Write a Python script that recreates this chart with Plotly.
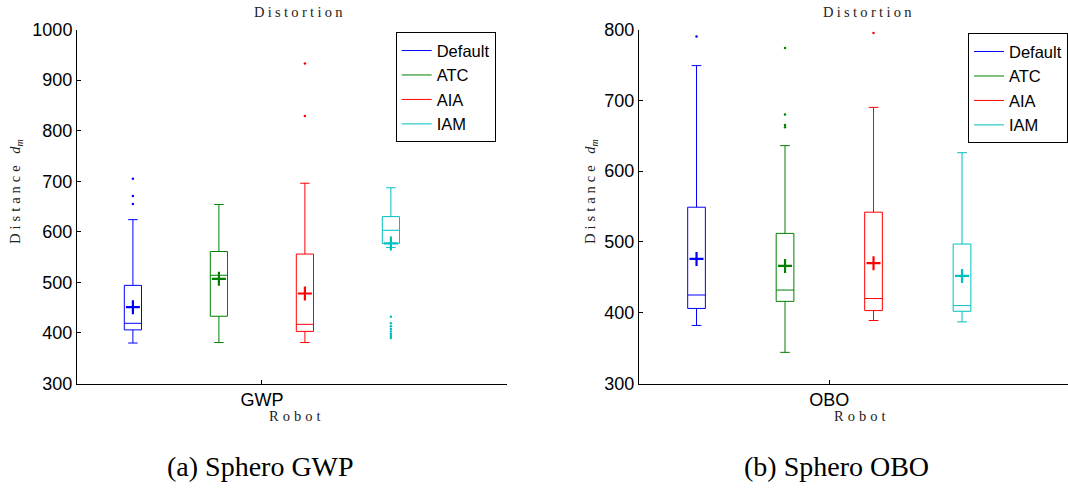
import plotly.graph_objects as go

# ---------------- data ----------------
methods = ["Default", "ATC", "AIA", "IAM"]
colors = ["#0000FF", "#008000", "#FF0000", "#00BFBF"]
positions = [1, 2, 3, 4]

# Sphero GWP
gwp_q1 = [406, 433, 403, 577]
gwp_median = [419, 514, 417, 603]
gwp_q3 = [494, 561, 556, 630]
gwp_low = [380, 381, 381, 569]
gwp_high = [624, 654, 696, 687]
gwp_mean = [451, 507, 478, 577]
gwp_outliers = [
    [655, 671, 705],
    [],
    [829, 933],
    [390, 394, 398, 403, 408, 413, 419, 432],
]

# Sphero OBO
obo_q1 = [406, 416, 403, 402]
obo_median = [425, 432, 420, 410]
obo_q3 = [549, 512, 542, 497]
obo_low = [382, 344, 389, 387]
obo_high = [749, 636, 690, 626]
obo_mean = [476, 466, 470, 452]
obo_outliers = [
    [790],
    [662, 665, 680, 774],
    [795],
    [],
]

robots = ["GWP", "OBO"]
captions = ["(a) Sphero GWP", "(b) Sphero OBO"]
gwp_yticks = [300, 400, 500, 600, 700, 800, 900, 1000]
obo_yticks = [300, 400, 500, 600, 700, 800]

# ---------------- figure ----------------
W, H = 1068, 491
fig = go.Figure()

panels = [
    dict(xa="x", ya="y", leg="legend", q1=gwp_q1, med=gwp_median, q3=gwp_q3,
         lo=gwp_low, hi=gwp_high, mean=gwp_mean, out=gwp_outliers),
    dict(xa="x2", ya="y2", leg="legend2", q1=obo_q1, med=obo_median, q3=obo_q3,
         lo=obo_low, hi=obo_high, mean=obo_mean, out=obo_outliers),
]

for p in panels:
    for i, m in enumerate(methods):
        c = colors[i]
        fig.add_trace(go.Box(
            x=[positions[i]], q1=[p["q1"][i]], median=[p["med"][i]], q3=[p["q3"][i]],
            lowerfence=[p["lo"][i]], upperfence=[p["hi"][i]],
            width=0.2, whiskerwidth=0.55, boxpoints=False,
            line=dict(color=c, width=1), fillcolor="rgba(0,0,0,0)",
            showlegend=False, xaxis=p["xa"], yaxis=p["ya"], hoverinfo="skip"))
        if p["out"][i]:
            fig.add_trace(go.Scatter(
                x=[positions[i]] * len(p["out"][i]), y=p["out"][i], mode="markers",
                marker=dict(symbol="circle", size=2.5, color=c, line=dict(width=0)),
                showlegend=False, xaxis=p["xa"], yaxis=p["ya"], hoverinfo="skip"))
        fig.add_trace(go.Scatter(
            x=[positions[i]], y=[p["mean"][i]], mode="markers",
            marker=dict(symbol="cross-thin", size=10, color=c, line=dict(color=c, width=2.2)),
            showlegend=False, xaxis=p["xa"], yaxis=p["ya"], hoverinfo="skip"))
    for i, m in enumerate(methods):
        fig.add_trace(go.Scatter(
            x=[None], y=[None], mode="lines", name=m,
            line=dict(color=colors[i], width=1),
            legend=p["leg"], xaxis=p["xa"], yaxis=p["ya"]))

ydom = [1 - 383.5 / H, 1 - 29.5 / H]
axis_common = dict(showline=True, linecolor="black", linewidth=1, ticks="inside",
                   ticklen=4, tickcolor="black", showgrid=False, zeroline=False,
                   tickfont=dict(family="Liberation Sans", size=18, color="black"))

legend_common = dict(xanchor="left", yanchor="top", bgcolor="white",
                     bordercolor="black", borderwidth=1,
                     font=dict(family="Liberation Sans", size=16.5, color="black"),
                     itemwidth=30, tracegroupgap=0)

fig.update_layout(
    width=W, height=H,
    margin=dict(l=0, r=0, t=0, b=0, autoexpand=False),
    paper_bgcolor="white", plot_bgcolor="white",
    showlegend=True,
    xaxis=dict(domain=[77 / W, 507 / W], range=[0.35, 5.35], tickvals=[2.5],
               ticktext=[robots[0]], anchor="y", **axis_common),
    yaxis=dict(domain=ydom, range=[300, 1000], tickvals=gwp_yticks, anchor="x", **axis_common),
    xaxis2=dict(domain=[639 / W, 1.0], range=[0.35, 0.35 + 429 / 88.5], tickvals=[2.5],
                ticktext=[robots[1]], anchor="y2", **axis_common),
    yaxis2=dict(domain=ydom, range=[300, 800], tickvals=obo_yticks, anchor="x2", **axis_common),
    legend=dict(x=395.7 / W, y=1 - 32.3 / H, **legend_common),
    legend2=dict(x=968 / W, y=1 - 33.3 / H, **legend_common),
)

small = dict(family="Liberation Serif", size=14.5, color="#222222")
ann = []
for tx, rx, yx in [(300, 296, 16), (869, 861, 591)]:
    ann.append(dict(x=tx / W, y=1 - 12 / H, xref="paper", yref="paper", showarrow=False,
                    text='<span style="letter-spacing:3.3px">Distortion</span>', font=small,
                    xanchor="center", yanchor="middle"))
    ann.append(dict(x=rx / W, y=1 - 416 / H, xref="paper", yref="paper", showarrow=False,
                    text='<span style="letter-spacing:4px">Robot</span>', font=small,
                    xanchor="center", yanchor="middle"))
    ann.append(dict(x=yx / W, y=1 - 192 / H, xref="paper", yref="paper", showarrow=False,
                    text='<span style="letter-spacing:4px">Distance </span><i>d<sub>m</sub></i>',
                    font=small, textangle=-90, xanchor="center", yanchor="middle"))
for cx, cap in [(260, captions[0]), (836, captions[1])]:
    ann.append(dict(x=cx / W, y=1 - 466 / H, xref="paper", yref="paper", showarrow=False,
                    text=cap, font=dict(family="Liberation Serif", size=28, color="black"),
                    xanchor="center", yanchor="middle"))
fig.update_layout(annotations=ann)

fig.write_html("out.html")
